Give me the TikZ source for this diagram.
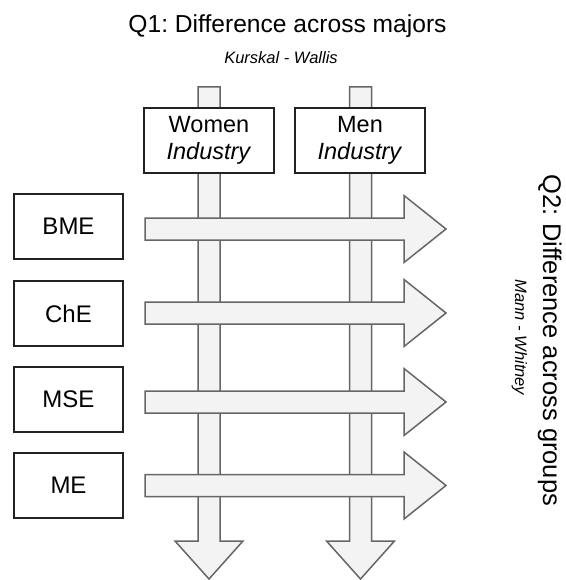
\documentclass[tikz,border=0pt]{standalone}
\usepackage{fontspec}
\setmainfont{Liberation Sans}
\frenchspacing
\definecolor{arrfill}{HTML}{F3F3F3}
\definecolor{arrline}{HTML}{666666}
\definecolor{boxline}{HTML}{222222}
\begin{document}
\begin{tikzpicture}[x=1pt,y=-1pt,
  fatarrow/.style={draw=arrline,fill=arrfill,line width=1.5pt,line join=miter},
  groupbox/.style={draw=boxline,fill=white,line width=1.5pt,minimum width=130pt,minimum height=65pt,inner sep=0pt,align=center,font=\fontsize{23.5}{27}\selectfont},
  majorbox/.style={draw=boxline,fill=white,line width=1.5pt,minimum width=109pt,minimum height=65pt,inner sep=0pt,font=\fontsize{24}{28}\selectfont},
  bigtitle/.style={inner sep=0pt,anchor=base,font=\fontsize{24.6}{28}\selectfont},
  subtitle/.style={inner sep=0pt,anchor=base,font=\fontsize{16.5}{19}\selectfont\itshape}
]
\useasboundingbox (0,0) rectangle (565,580);
% vertical arrows
\foreach \cx in {209,360.5}{
  \draw[fatarrow] (\cx-11,87) -- (\cx+11,87) -- (\cx+11,541) -- (\cx+34,541) -- (\cx,579) -- (\cx-34,541) -- (\cx-11,541) -- cycle;
}
% group boxes
\node[groupbox] (women) at (209,140.5) {Women\\\textit{Industry}};
\node[groupbox] (men) at (360,140.5) {Men\\\textit{Industry}};
% horizontal arrows
\foreach \cy in {229,313,402,485.5}{
  \draw[fatarrow] (145,\cy-11) -- (404,\cy-11) -- (404,\cy-33.5) -- (446,\cy) -- (404,\cy+33.5) -- (404,\cy+11) -- (145,\cy+11) -- cycle;
}
% major boxes
\node[majorbox] (bme) at (68.5,226.5) {BME};
\node[majorbox] (che) at (68.5,313.5) {ChE};
\node[majorbox] (mse) at (68.5,399.5) {MSE};
\node[majorbox] (me) at (68.5,485.5) {ME};
% titles
\node[bigtitle] (q1) at (287.5,33) {Q1: Difference across majors};
\node[subtitle] (kw) at (281,64) {Kurskal - Wallis};
\node[bigtitle,rotate=-90,font=\fontsize{25.5}{29}\selectfont] (q2) at (543,340.5) {Q2: Difference across groups};
\node[subtitle,rotate=-90] (mw) at (515,337.5) {Mann - Whitney};
\end{tikzpicture}
\end{document}
